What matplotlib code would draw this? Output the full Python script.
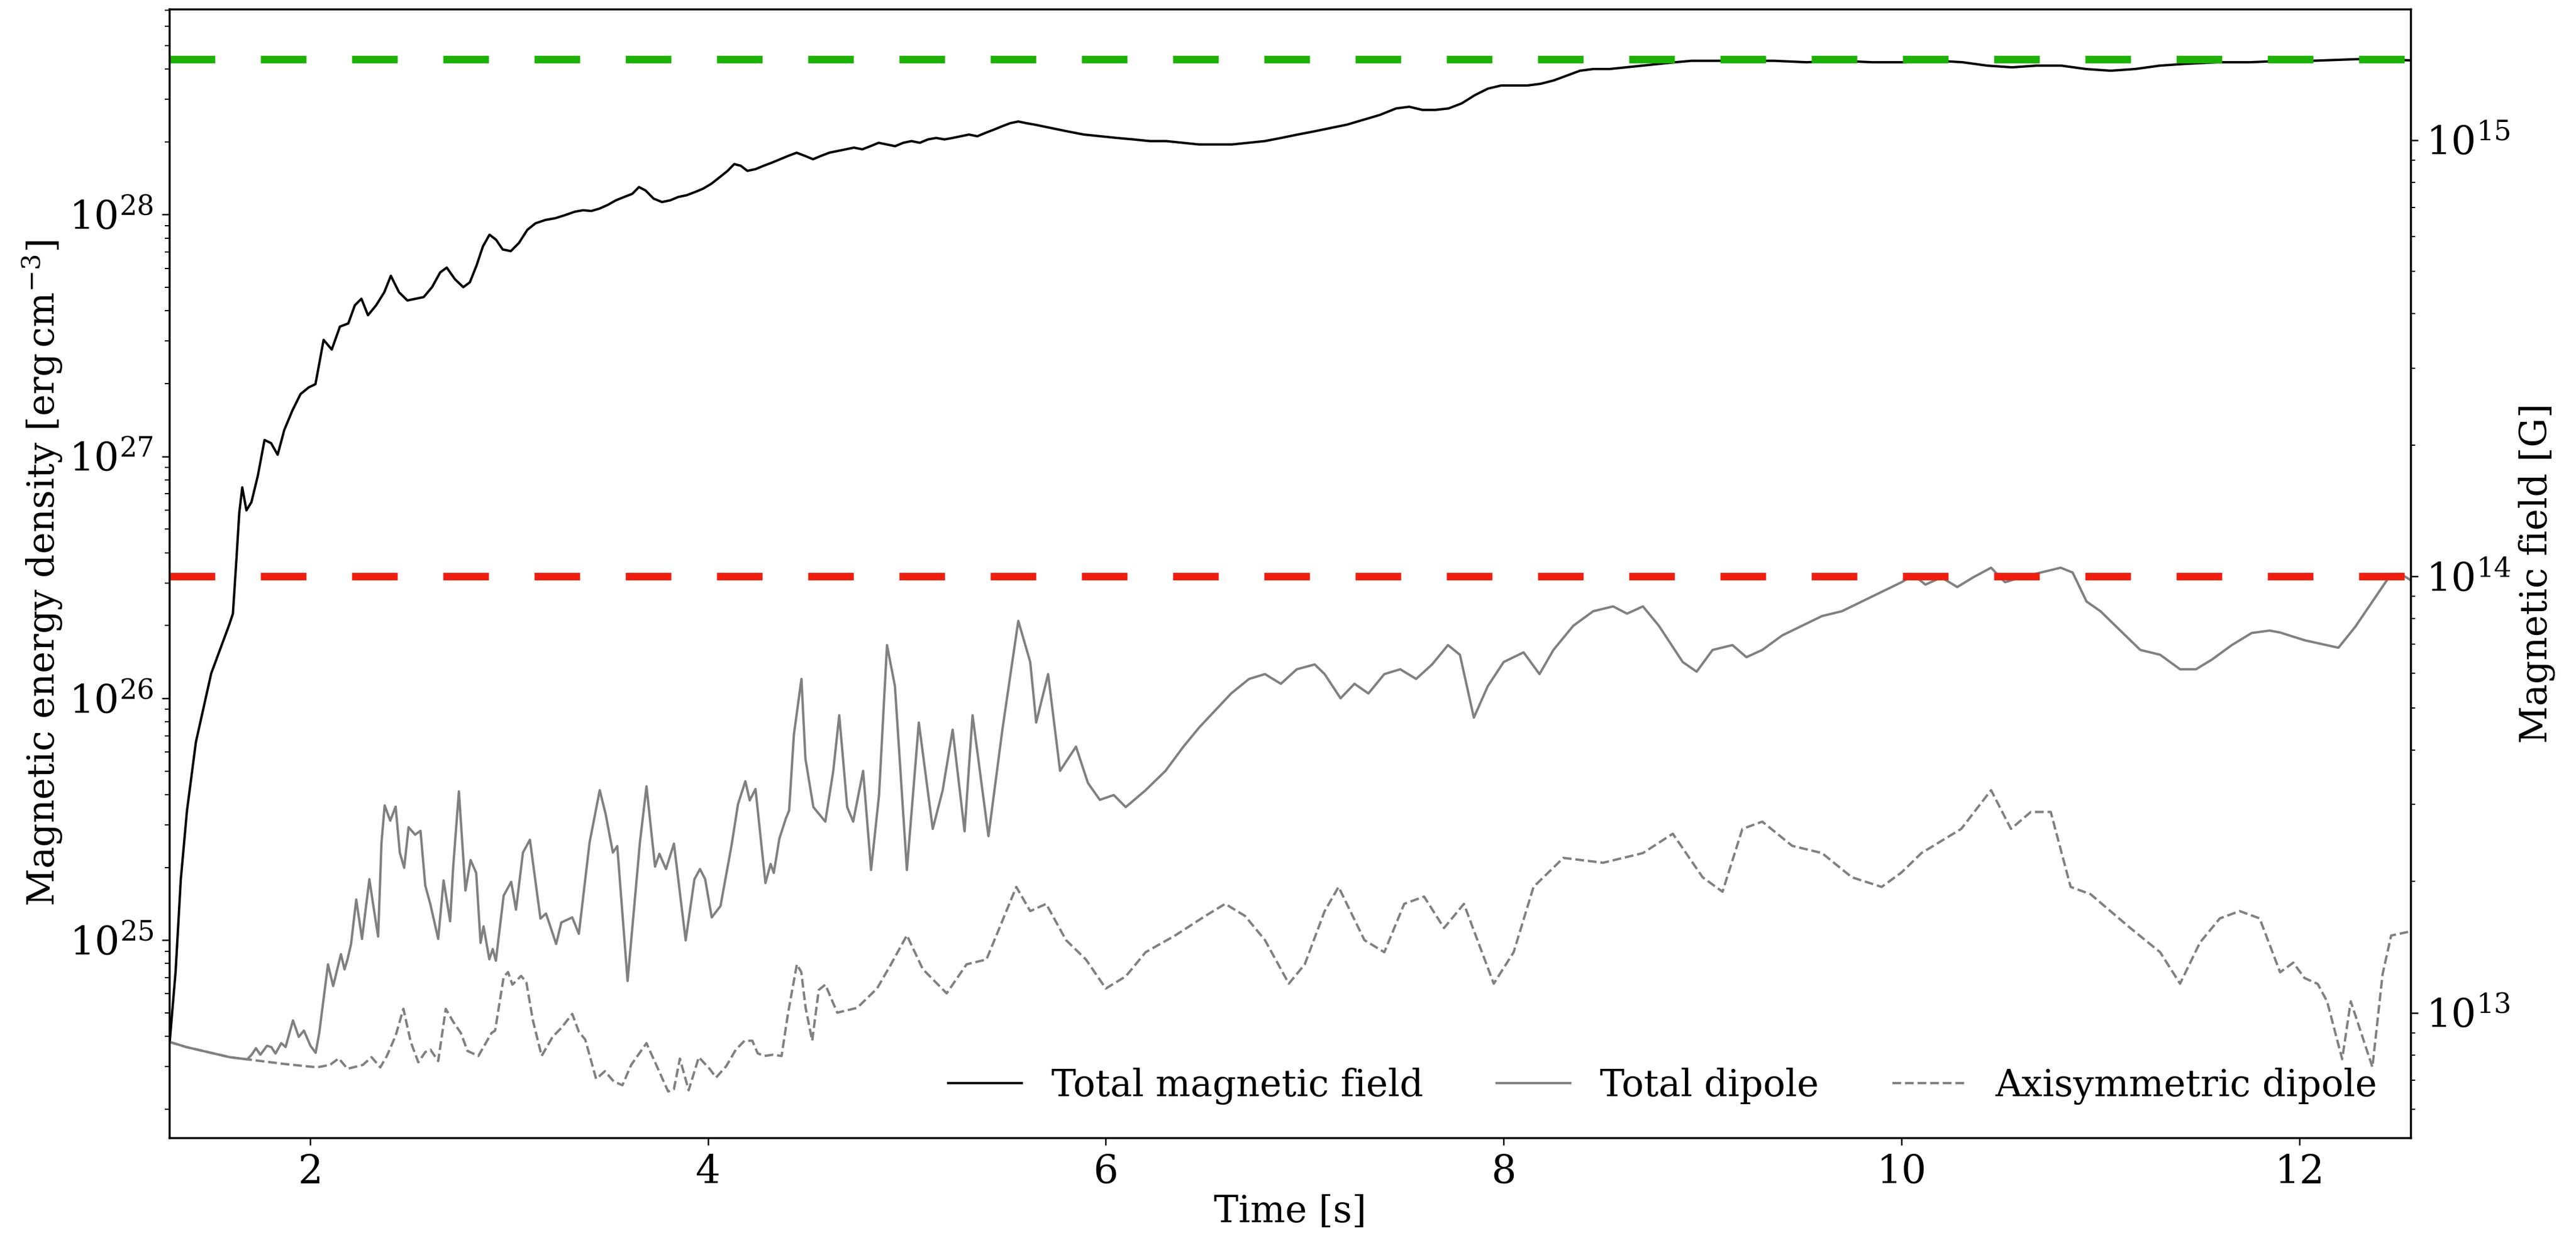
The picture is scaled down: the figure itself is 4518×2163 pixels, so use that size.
import numpy as np
import matplotlib
matplotlib.use("Agg")
import matplotlib.pyplot as plt

# ---------------------------------------------------------------------------
# Data: time [s] and log10 of the magnetic energy density [erg cm^-3]
# ---------------------------------------------------------------------------
t_total = [1.295, 1.324, 1.350, 1.381, 1.426, 1.503, 1.593, 1.612, 1.630, 1.644,
           1.659, 1.680, 1.705, 1.737, 1.771, 1.804, 1.837, 1.870, 1.911, 1.952,
           1.994, 2.027, 2.068, 2.109, 2.150, 2.192, 2.225, 2.258, 2.291, 2.332,
           2.373, 2.406, 2.447, 2.489, 2.530, 2.571, 2.613, 2.654, 2.687, 2.728,
           2.770, 2.803, 2.836, 2.869, 2.902, 2.935, 2.968, 3.009, 3.050, 3.092,
           3.133, 3.183, 3.232, 3.282, 3.331, 3.372, 3.414, 3.455, 3.496,
           3.537, 3.579, 3.620, 3.653, 3.686, 3.727, 3.769, 3.810, 3.851, 3.892,
           3.934, 3.975, 4.016, 4.058, 4.099, 4.132, 4.165, 4.198, 4.239, 4.280,
           4.322, 4.363, 4.404, 4.446, 4.487, 4.528, 4.569, 4.610, 4.652, 4.693,
           4.734, 4.776, 4.817, 4.858, 4.900, 4.941, 4.982, 5.023, 5.065, 5.106,
           5.147, 5.189, 5.230, 5.271, 5.312, 5.354, 5.395, 5.436, 5.478, 5.519,
           5.560, 5.601, 5.643, 5.684, 5.725, 5.808, 5.890, 5.973, 6.056, 6.138,
           6.221, 6.303, 6.386, 6.469, 6.551, 6.634, 6.716, 6.799, 6.881, 6.964,
           7.046, 7.129, 7.212, 7.294, 7.377, 7.459, 7.525, 7.591, 7.657, 7.723,
           7.789, 7.855, 7.921, 7.988, 8.054, 8.120, 8.186, 8.252, 8.318, 8.384,
           8.450, 8.532, 8.615, 8.697, 8.780, 8.862, 8.945, 9.028, 9.193, 9.358,
           9.523, 9.688, 9.853, 10.018, 10.184, 10.307, 10.431, 10.555, 10.679, 10.803,
           10.927, 11.051, 11.174, 11.298, 11.422, 11.587, 11.752, 11.917, 12.063, 12.296,
           12.556]
log_total = [24.586, 24.870, 25.250, 25.534, 25.819, 26.103, 26.303, 26.350, 26.578, 26.767,
             26.872, 26.777, 26.811, 26.919, 27.068, 27.055, 27.007, 27.109, 27.190, 27.258,
             27.286, 27.299, 27.482, 27.442, 27.537, 27.550, 27.625, 27.652, 27.584, 27.625,
             27.679, 27.747, 27.679, 27.645, 27.652, 27.659, 27.700, 27.761, 27.781, 27.733,
             27.700, 27.720, 27.788, 27.869, 27.917, 27.896, 27.856, 27.849, 27.883, 27.937,
             27.964, 27.978, 27.985, 27.998, 28.012, 28.018, 28.015, 28.025, 28.040,
             28.059, 28.073, 28.086, 28.114, 28.100, 28.066, 28.052, 28.059, 28.073, 28.080,
             28.093, 28.107, 28.127, 28.154, 28.181, 28.209, 28.202, 28.181, 28.188, 28.202,
             28.215, 28.229, 28.243, 28.256, 28.243, 28.229, 28.243, 28.256, 28.263, 28.270,
             28.277, 28.270, 28.283, 28.297, 28.290, 28.283, 28.297, 28.304, 28.297, 28.311,
             28.317, 28.311, 28.317, 28.324, 28.331, 28.324, 28.338, 28.351, 28.365, 28.378,
             28.385, 28.378, 28.372, 28.365, 28.358, 28.344, 28.331, 28.324, 28.317, 28.311,
             28.304, 28.304, 28.297, 28.290, 28.290, 28.290, 28.297, 28.304, 28.317, 28.331,
             28.344, 28.358, 28.372, 28.392, 28.412, 28.439, 28.446, 28.433, 28.433, 28.439,
             28.460, 28.494, 28.521, 28.534, 28.534, 28.534, 28.541, 28.555, 28.575, 28.595,
             28.602, 28.602, 28.609, 28.616, 28.623, 28.630, 28.636, 28.636, 28.636, 28.636,
             28.630, 28.636, 28.630, 28.630, 28.636, 28.630, 28.616, 28.609, 28.616, 28.616,
             28.602, 28.595, 28.602, 28.616, 28.623, 28.630, 28.630, 28.636, 28.636, 28.643,
             28.638]

t_dipole = [1.294, 1.377, 1.487, 1.596, 1.684, 1.706, 1.728, 1.750, 1.783, 1.805,
            1.826, 1.855, 1.877, 1.914, 1.943, 1.969, 2.002, 2.028, 2.046, 2.090,
            2.116, 2.133, 2.155, 2.173, 2.188, 2.206, 2.232, 2.261, 2.298, 2.320,
            2.342, 2.359, 2.375, 2.403, 2.430, 2.451, 2.473, 2.495, 2.528, 2.555,
            2.579, 2.605, 2.644, 2.671, 2.704, 2.719, 2.748, 2.781, 2.807, 2.835,
            2.857, 2.872, 2.901, 2.918, 2.934, 2.973, 3.011, 3.035, 3.070, 3.105,
            3.158, 3.186, 3.237, 3.263, 3.318, 3.351, 3.405, 3.456, 3.486, 3.522,
            3.544, 3.596, 3.658, 3.691, 3.734, 3.756, 3.789, 3.829, 3.888, 3.932,
            3.960, 3.986, 4.019, 4.063, 4.118, 4.151, 4.188, 4.210, 4.239, 4.289,
            4.315, 4.331, 4.359, 4.392, 4.408, 4.432, 4.470, 4.49, 4.53, 4.59,
            4.63, 4.66, 4.70, 4.73, 4.78, 4.82, 4.86, 4.90, 4.94, 5.00,
            5.06, 5.13, 5.18, 5.23, 5.29, 5.33, 5.41, 5.48, 5.56, 5.62,
            5.65, 5.71, 5.77, 5.85, 5.91, 5.97, 6.04, 6.10, 6.20, 6.30,
            6.39, 6.47, 6.55, 6.63, 6.72, 6.80, 6.88, 6.96, 7.05, 7.10,
            7.18, 7.25, 7.32, 7.40, 7.48, 7.56, 7.64, 7.72, 7.78, 7.85,
            7.92, 8.00, 8.10, 8.18, 8.25, 8.35, 8.45, 8.55, 8.62, 8.70,
            8.78, 8.90, 8.97, 9.05, 9.15, 9.22, 9.30, 9.40, 9.50, 9.60,
            9.70, 9.80, 9.90, 10.00, 10.06, 10.12, 10.20, 10.28, 10.36, 10.45,
            10.52, 10.60, 10.70, 10.80, 10.86, 10.93, 11.00, 11.10, 11.20, 11.30,
            11.40, 11.48, 11.56, 11.66, 11.76, 11.85, 11.903, 12.026, 12.196, 12.281,
            12.461, 12.51, 12.556]
log_dipole = [24.579, 24.558, 24.537, 24.516, 24.507, 24.526, 24.553, 24.526, 24.563, 24.558,
              24.531, 24.574, 24.558, 24.668, 24.600, 24.626, 24.563, 24.534, 24.616, 24.900,
              24.810, 24.868, 24.942, 24.879, 24.920, 24.984, 25.168, 25.005, 25.252, 25.131,
              25.015, 25.404, 25.557, 25.494, 25.552, 25.362, 25.299, 25.467, 25.436, 25.452,
              25.226, 25.147, 25.005, 25.247, 25.078, 25.299, 25.615, 25.205, 25.331, 25.278,
              24.989, 25.057, 24.921, 24.963, 24.915, 25.184, 25.241, 25.126, 25.362, 25.415,
              25.089, 25.110, 24.984, 25.073, 25.094, 25.026, 25.404, 25.620, 25.520, 25.362,
              25.389, 24.831, 25.404, 25.636, 25.304, 25.357, 25.294, 25.399, 24.999, 25.252,
              25.294, 25.252, 25.094, 25.141, 25.389, 25.562, 25.657, 25.578, 25.625, 25.236,
              25.315, 25.278, 25.420, 25.504, 25.536, 25.850, 26.080, 25.75, 25.55, 25.49,
              25.70, 25.93, 25.55, 25.49, 25.70, 25.29, 25.60, 26.22, 26.05, 25.29,
              25.90, 25.46, 25.62, 25.87, 25.45, 25.93, 25.43, 25.87, 26.32, 26.15,
              25.90, 26.10, 25.70, 25.80, 25.65, 25.58, 25.60, 25.55, 25.62, 25.70,
              25.80, 25.88, 25.95, 26.02, 26.08, 26.10, 26.06, 26.12, 26.14, 26.10,
              26.00, 26.06, 26.02, 26.10, 26.12, 26.08, 26.14, 26.22, 26.18, 25.92,
              26.05, 26.15, 26.19, 26.10, 26.20, 26.30, 26.36, 26.38, 26.35, 26.38,
              26.30, 26.15, 26.11, 26.20, 26.22, 26.17, 26.20, 26.26, 26.30, 26.34,
              26.36, 26.40, 26.44, 26.48, 26.51, 26.47, 26.50, 26.46, 26.50, 26.54,
              26.48, 26.50, 26.52, 26.54, 26.52, 26.40, 26.36, 26.28, 26.20, 26.18,
              26.12, 26.12, 26.16, 26.22, 26.27, 26.28, 26.272, 26.240, 26.209, 26.296,
              26.514, 26.514, 26.490]

t_axisym = [1.294, 1.377, 1.487, 1.596, 1.684, 1.772, 1.881, 2.035, 2.100, 2.144,
            2.188, 2.265, 2.309, 2.353, 2.386, 2.430, 2.469, 2.506, 2.544, 2.579,
            2.605, 2.644, 2.682, 2.719, 2.758, 2.791, 2.846, 2.912, 2.930, 2.973,
            2.995, 3.017, 3.061, 3.087, 3.120, 3.164, 3.219, 3.263, 3.318, 3.351,
            3.383, 3.438, 3.482, 3.526, 3.570, 3.614, 3.691, 3.734, 3.800, 3.829,
            3.859, 3.903, 3.954, 4.008, 4.041, 4.092, 4.140, 4.184, 4.223, 4.250,
            4.283, 4.326, 4.370, 4.403, 4.447, 4.469, 4.491, 4.524, 4.557, 4.590,
            4.65, 4.75, 4.85, 4.92, 5.00, 5.08, 5.20, 5.30, 5.40, 5.48,
            5.55, 5.62, 5.70, 5.80, 5.90, 6.00, 6.10, 6.20, 6.35, 6.50,
            6.60, 6.70, 6.80, 6.92, 7.00, 7.10, 7.17, 7.30, 7.40, 7.50,
            7.60, 7.70, 7.80, 7.95, 8.05, 8.15, 8.30, 8.50, 8.70, 8.85,
            9.00, 9.10, 9.20, 9.30, 9.45, 9.60, 9.75, 9.90, 10.00, 10.10,
            10.30, 10.45, 10.55, 10.65, 10.75, 10.85, 10.95, 11.05, 11.15, 11.30,
            11.40, 11.50, 11.60, 11.70, 11.80, 11.903, 11.969,
            12.026, 12.092, 12.139, 12.215, 12.258, 12.367, 12.418, 12.461, 12.546]
log_axisym = [24.579, 24.558, 24.537, 24.516, 24.507, 24.498, 24.487, 24.474, 24.484, 24.511,
              24.468, 24.484, 24.516, 24.474, 24.521, 24.605, 24.716, 24.579, 24.495, 24.537,
              24.547, 24.500, 24.716, 24.663, 24.616, 24.542, 24.521, 24.616, 24.626, 24.847,
              24.868, 24.816, 24.852, 24.826, 24.668, 24.521, 24.600, 24.637, 24.695, 24.621,
              24.589, 24.426, 24.458, 24.416, 24.400, 24.484, 24.574, 24.495, 24.374, 24.384,
              24.510, 24.379, 24.516, 24.468, 24.432, 24.479, 24.547, 24.584, 24.584, 24.532,
              24.521, 24.526, 24.521, 24.700, 24.900, 24.868, 24.720, 24.584, 24.794, 24.816,
              24.70, 24.72, 24.80, 24.90, 25.02, 24.88, 24.78, 24.90, 24.92, 25.08,
              25.22, 25.12, 25.15, 25.00, 24.92, 24.80, 24.85, 24.95, 25.02, 25.10,
              25.15, 25.10, 25.00, 24.82, 24.90, 25.12, 25.22, 25.00, 24.95, 25.15,
              25.18, 25.05, 25.15, 24.82, 24.95, 25.22, 25.34, 25.32, 25.36, 25.44,
              25.26, 25.20, 25.46, 25.49, 25.39, 25.36, 25.26, 25.22, 25.28, 25.36,
              25.46, 25.62, 25.46, 25.53, 25.53, 25.22, 25.19, 25.12, 25.05, 24.95,
              24.82, 24.99, 25.09, 25.12, 25.09, 24.867, 24.907,
              24.843, 24.819, 24.747, 24.508, 24.747, 24.475, 24.859, 25.019, 25.034]

# Reference field strengths [G] drawn on the right-hand axis
b_upper = 1.53e15
b_lower = 1.0e14

# ---------------------------------------------------------------------------
plt.rcParams.update({
    "font.family": "DejaVu Serif",
    "mathtext.fontset": "dejavuserif",
    "font.size": 15.5,
    "xtick.labelsize": 16.5,
    "ytick.labelsize": 16.5,
    "axes.linewidth": 0.8,
    "xtick.major.size": 3.1, "ytick.major.size": 3.1,
    "xtick.minor.size": 2.0, "ytick.minor.size": 2.0,
    "xtick.major.width": 0.6, "ytick.major.width": 0.6,
    "xtick.minor.width": 0.5, "ytick.minor.width": 0.5,
})

fig = plt.figure(figsize=(4518 / 300, 2163 / 300), dpi=300)
ax = fig.add_axes([0.0657, 0.0772, 0.9358 - 0.0657, 0.9928 - 0.0772])

ax.plot(t_total, 10 ** np.asarray(log_total), color="black", lw=1.0,
        label="Total magnetic field")
ax.plot(t_dipole, 10 ** np.asarray(log_dipole), color="gray", lw=1.0,
        label="Total dipole")
ax.plot(t_axisym, 10 ** np.asarray(log_axisym), color="gray", lw=1.0,
        ls="--", label="Axisymmetric dipole")

ax.set_yscale("log")
ax.set_xlim(1.292, 12.559)
ax.set_ylim(10 ** 24.1826, 10 ** 28.8507)
ax.set_xticks([2, 4, 6, 8, 10, 12])
ax.set_xlabel("Time [s]", labelpad=1.0)
ax.set_ylabel(r"Magnetic energy density [erg$\,$cm$^{-3}$]", labelpad=2.0)

ax.legend(loc="lower right", ncol=3, frameon=False)

ax2 = ax.twinx()
ax2.set_yscale("log")
ax2.set_ylim(10 ** 12.7134, 10 ** 15.3005)
ax2.set_ylabel("Magnetic field [G]", labelpad=3.0)
ax2.axhline(b_upper, color="#1db100", lw=3.2, dashes=(6, 6))
ax2.axhline(b_lower, color="#ee1f10", lw=3.2, dashes=(6, 6))

fig.savefig("out.png", dpi=300)
